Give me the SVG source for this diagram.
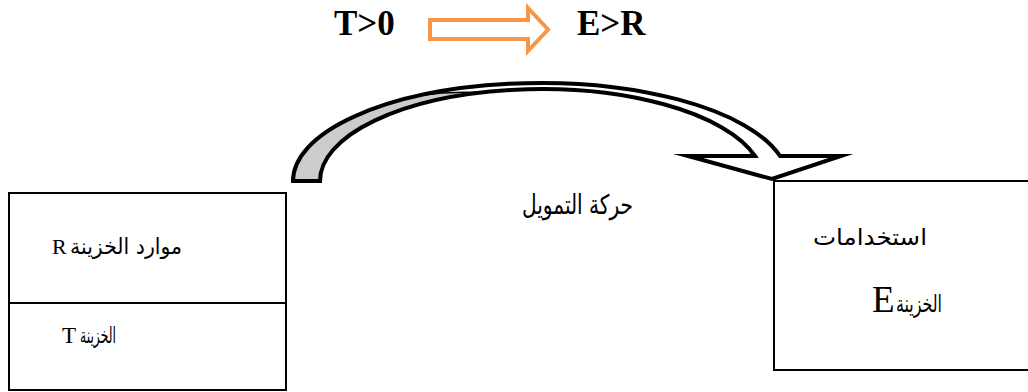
<svg xmlns="http://www.w3.org/2000/svg" width="1028" height="392" viewBox="0 0 1028 392">
  <style>
    .box { fill: #ffffff; stroke: #000000; stroke-width: 2; }
    .latin { font-family: "Liberation Serif", "Times New Roman", serif; fill: #000000; }
    .head { font-weight: bold; font-size: 35px; }
    .ar { font-family: "DejaVu Sans", "Noto Sans", sans-serif; fill: #000000; }
  </style>

  <rect width="1028" height="392" fill="#ffffff"/>

  <!-- headline: T>0 implies E>R -->
  <g id="headline">
    <text class="latin head" x="334" y="35">T&gt;0</text>
    <path d="M430 20 H528 V8 L548 29.5 L528 51 V39 H430 Z" fill="#ffffff" stroke="#F79646" stroke-width="4" stroke-linejoin="miter"/>
    <text class="latin head" x="577" y="35">E&gt;R</text>
  </g>

  <!-- treasury resources / treasury balance -->
  <g id="resources">
    <rect class="box" x="9" y="193" width="277" height="197"/>
    <line x1="9" y1="303" x2="286" y2="303" stroke="#000000" stroke-width="2"/>
    <text class="latin" x="52" y="254" font-size="22">R</text>
    <text class="ar" x="70" y="254" font-size="22" textLength="112" lengthAdjust="spacingAndGlyphs">موارد الخزينة</text>
    <text class="latin" x="62" y="343" font-size="23">T</text>
    <text class="ar" x="80" y="343" font-size="22" textLength="36" lengthAdjust="spacingAndGlyphs">الخزينة</text>
  </g>

  <!-- treasury uses -->
  <g id="uses">
    <rect class="box" x="774" y="181" width="260" height="189"/>
    <text class="ar" x="813" y="245" font-size="23" textLength="114" lengthAdjust="spacingAndGlyphs">استخدامات</text>
    <text class="latin" x="872" y="312" font-size="37">E</text>
    <text class="ar" x="896" y="312" font-size="24" textLength="46" lengthAdjust="spacingAndGlyphs">الخزينة</text>
  </g>

  <!-- curved flow arrow -->
  <g id="connectors">
    <path d="M293 181 A247.6 98 0 0 1 780 156 L841 156 L772 179 L688 156 L755 156 A221.7 92 0 0 0 320 181 Z" fill="#ffffff"/>
    <path d="M293 181 A247.6 98 0 0 1 420 95.4 Q450 91 480 92.6 A221.7 92 0 0 0 320 181 Z" fill="#CCCCCC"/>
    <path d="M293 181 A247.6 98 0 0 1 780 156 L841 156 L772 179 L688 156 L755 156 A221.7 92 0 0 0 320 181 Z" fill="none" stroke="#000000" stroke-width="4" stroke-linejoin="miter" stroke-miterlimit="20"/>
    <path d="M420 95.4 Q450 91 480 92.6" fill="none" stroke="#000000" stroke-width="1.5"/>
    <text class="ar" x="522" y="214" font-size="27" textLength="111" lengthAdjust="spacingAndGlyphs">حركة التمويل</text>
  </g>
</svg>
